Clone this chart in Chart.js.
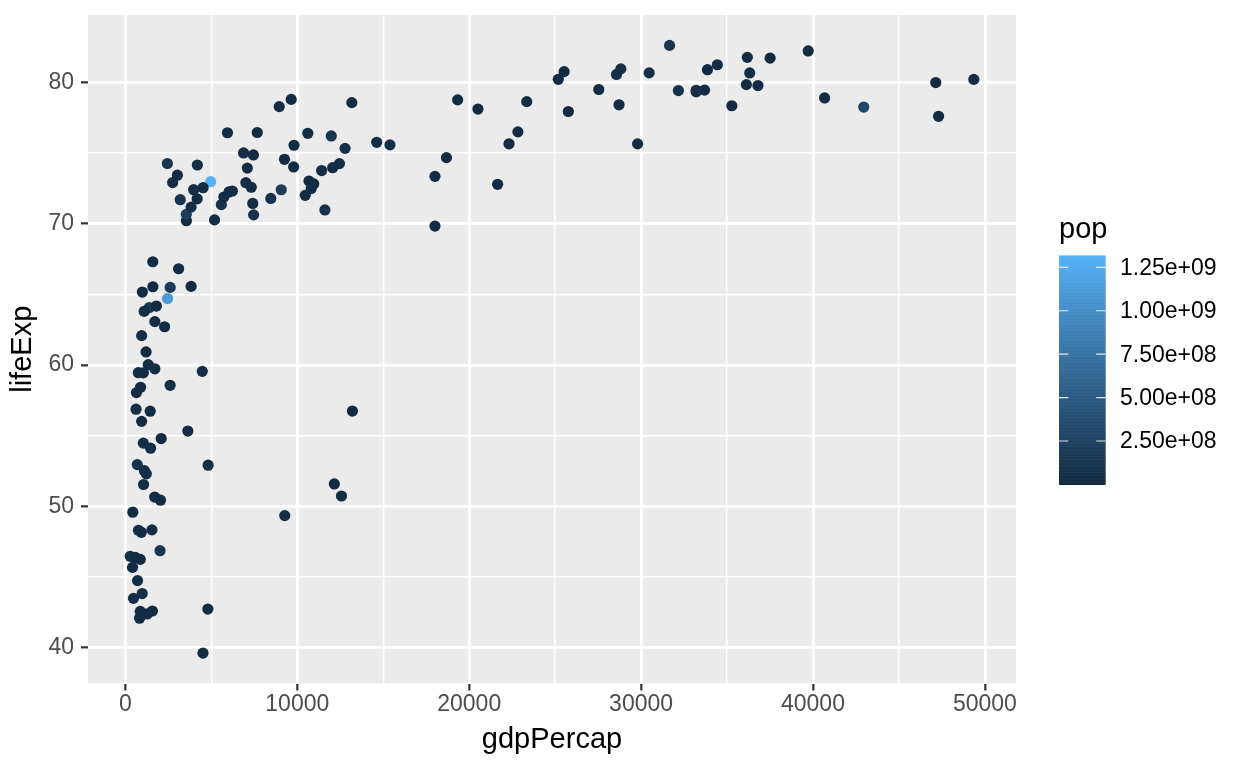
<!DOCTYPE html>
<html><head><meta charset="utf-8">
<script src="https://cdn.jsdelivr.net/npm/chart.js@4/dist/chart.umd.min.js"></script>
<style>html,body{margin:0;padding:0;background:#fff}#wrap{width:1248px;height:768px}</style>
</head><body><div id="wrap"><canvas id="c" width="1248" height="768"></canvas></div>
<script>
// gapminder 2007: country, lifeExp, pop, gdpPercap
const countries = ["Afghanistan","Albania","Algeria","Angola","Argentina","Australia","Austria","Bahrain","Bangladesh","Belgium","Benin","Bolivia","Bosnia and Herzegovina","Botswana","Brazil","Bulgaria","Burkina Faso","Burundi","Cambodia","Cameroon","Canada","Central African Republic","Chad","Chile","China","Colombia","Comoros","Congo, Dem. Rep.","Congo, Rep.","Costa Rica","Cote d'Ivoire","Croatia","Cuba","Czech Republic","Denmark","Djibouti","Dominican Republic","Ecuador","Egypt","El Salvador","Equatorial Guinea","Eritrea","Ethiopia","Finland","France","Gabon","Gambia","Germany","Ghana","Greece","Guatemala","Guinea","Guinea-Bissau","Haiti","Honduras","Hong Kong, China","Hungary","Iceland","India","Indonesia","Iran","Iraq","Ireland","Israel","Italy","Jamaica","Japan","Jordan","Kenya","Korea, Dem. Rep.","Korea, Rep.","Kuwait","Lebanon","Lesotho","Liberia","Libya","Madagascar","Malawi","Malaysia","Mali","Mauritania","Mauritius","Mexico","Mongolia","Montenegro","Morocco","Mozambique","Myanmar","Namibia","Nepal","Netherlands","New Zealand","Nicaragua","Niger","Nigeria","Norway","Oman","Pakistan","Panama","Paraguay","Peru","Philippines","Poland","Portugal","Puerto Rico","Reunion","Romania","Rwanda","Sao Tome and Principe","Saudi Arabia","Senegal","Serbia","Sierra Leone","Singapore","Slovak Republic","Slovenia","Somalia","South Africa","Spain","Sri Lanka","Sudan","Swaziland","Sweden","Switzerland","Syria","Taiwan","Tanzania","Thailand","Togo","Trinidad and Tobago","Tunisia","Turkey","Uganda","United Kingdom","United States","Uruguay","Venezuela","Vietnam","West Bank and Gaza","Yemen, Rep.","Zambia","Zimbabwe"];
const lifeExp = [43.828,76.423,72.301,42.731,75.32,81.235,79.829,75.635,64.062,79.441,56.728,65.554,74.852,50.728,72.39,73.005,52.295,49.58,59.723,50.43,80.653,44.741,50.651,78.553,72.961,72.889,65.152,46.462,55.322,78.782,48.328,75.748,78.273,76.486,78.332,54.791,72.235,74.994,71.338,71.878,51.579,58.04,52.947,79.313,80.657,56.735,59.448,79.406,60.022,79.483,70.259,56.007,46.388,60.916,70.198,82.208,73.338,81.757,64.698,70.65,70.964,59.545,78.885,80.745,80.546,72.567,82.603,72.535,54.11,67.297,78.623,77.588,71.993,42.592,45.678,73.952,59.443,48.303,74.241,54.467,64.164,72.801,76.195,66.803,74.543,71.164,42.082,62.069,52.906,63.785,79.762,80.204,72.899,56.867,46.859,80.196,75.64,65.483,75.537,71.752,71.421,71.688,75.563,78.098,78.746,76.442,72.476,46.242,65.528,72.777,63.062,74.002,42.568,79.972,74.663,77.926,48.159,49.339,80.941,72.396,58.556,39.613,80.884,81.701,74.143,78.4,52.517,70.616,58.42,69.819,73.923,71.777,51.542,79.425,78.242,76.384,73.747,74.249,73.422,62.698,42.384,43.487];
const pop = [31889923,3600523,33333216,12420476,40301927,20434176,8199783,708573,150448339,10392226,8078314,9119152,4552198,1639131,190010647,7322858,14326203,8390505,14131858,17696293,33390141,4369038,10238807,16284741,1318683096,44227550,710960,64606759,3800610,4133884,18013409,4493312,11416987,10228744,5468120,496374,9319622,13755680,80264543,6939688,551201,4906585,76511887,5238460,61083916,1454867,1688359,82400996,22873338,10706290,12572928,9947814,1472041,8502814,7483763,6980412,9956108,301931,1110396331,223547000,69453570,27499638,4109086,6426679,58147733,2780132,127467972,6053193,35610177,23301725,49044790,2505559,3921278,2012649,3193942,6036914,19167654,13327079,24821286,12031795,3270065,1250882,108700891,2874127,684736,33757175,19951656,47761980,2055080,28901790,16570613,4115771,5675356,12894865,135031164,4627926,3204897,169270617,3242173,6667147,28674757,91077287,38518241,10642836,3942491,798094,22276056,8860588,199579,27601038,12267493,10150265,6144562,4553009,5447502,2009245,9118773,43997828,40448191,20378239,42292929,1133066,9031088,7554661,19314747,23174294,38139640,65068149,5701579,1056608,10276158,71158647,29170398,60776238,301139947,3447496,26084662,85262356,4018332,22211743,11746035,12311143];
const gdpPercap = [974.5803384,5937.029526,6223.367465,4797.231267,12779.37964,34435.36744,36126.4927,29796.04834,1391.253792,33692.60508,1441.284873,3822.137084,7446.298803,12569.85177,9065.800825,10680.79282,1217.032994,430.0706916,1713.778686,2042.09524,36319.23501,706.016537,1704.063724,13171.63885,4959.114854,7006.580419,986.1478792,277.5518587,3632.557798,9645.06142,1544.750112,14619.22272,8948.102923,22833.30851,35278.41874,2082.481567,6025.374752,6873.262326,5581.180998,5728.353514,12154.08975,641.3695236,690.8055759,33207.0844,30470.0167,13206.48452,752.7497265,32170.37442,1327.60891,27538.41188,5186.050003,942.6542111,579.231743,1201.637154,3548.330846,39724.97867,18008.94444,36180.78919,2452.210407,3540.651564,11605.71449,4471.061906,40675.99635,25523.2771,28569.7197,7320.880262,31656.06806,4519.461171,1463.249282,1593.06548,23348.13973,47306.98978,10461.05868,1569.331442,414.5073415,12057.49928,1044.770126,759.3499101,12451.6558,1042.581557,1803.151496,10956.99112,11977.57496,3095.772271,9253.896111,3820.17523,823.6856205,944,4811.060429,1091.359778,36797.93332,25185.00911,2749.320965,619.6768924,2013.977305,49357.19017,22316.19287,2605.94758,9809.185636,4172.838464,7408.905561,3190.481016,15389.92468,20509.64777,19328.70901,7670.122558,10808.47561,863.0884639,1598.435089,21654.83194,1712.472136,9786.534714,862.5407561,47143.17964,18678.31435,25768.25759,926.1410683,9269.657808,28821.0637,3970.095407,2602.394995,4513.480643,33859.74835,37506.41907,4184.548089,28718.27684,1107.482182,7458.396327,882.9699438,18008.50924,7092.923025,8458.276384,1056.380121,33203.26128,42951.65309,10611.46299,11415.80569,2441.576404,3025.349798,2280.769906,1271.211593,469.7092981];

const xMajorTicks = [0, 10000, 20000, 30000, 40000, 50000];
const xMinorTicks = [5000, 15000, 25000, 35000, 45000];
const yMajorTicks = [40, 50, 60, 70, 80];
const yMinorTicks = [45, 55, 65, 75];
const popTicks = [2.5e8, 5e8, 7.5e8, 1e9, 1.25e9];
const popTickLabels = ["2.50e+08", "5.00e+08", "7.50e+08", "1.00e+09", "1.25e+09"];
const lowColor = "#132B43", highColor = "#56B1F7";

// ---- Lab colour interpolation (like ggplot's seq_gradient_pal) ----
function hexToRgb(h){ return [1,3,5].map(i => parseInt(h.slice(i,i+2),16)); }
function toLin(c){ c/=255; return c <= 0.04045 ? c/12.92 : Math.pow((c+0.055)/1.055, 2.4); }
function fromLin(c){ const v = c <= 0.0031308 ? 12.92*c : 1.055*Math.pow(c, 1/2.4) - 0.055; return Math.round(Math.max(0, Math.min(1, v))*255); }
const Xn=0.95047, Yn=1.0, Zn=1.08883;
function fLab(t){ return t > 216/24389 ? Math.cbrt(t) : (24389/27*t + 16)/116; }
function fInv(t){ const t3 = t*t*t; return t3 > 216/24389 ? t3 : (116*t - 16)/(24389/27); }
function rgbToLab(rgb){
  const [R,G,B] = rgb.map(toLin);
  const X = 0.4124564*R + 0.3575761*G + 0.1804375*B;
  const Y = 0.2126729*R + 0.7151522*G + 0.0721750*B;
  const Z = 0.0193339*R + 0.1191920*G + 0.9503041*B;
  const fx = fLab(X/Xn), fy = fLab(Y/Yn), fz = fLab(Z/Zn);
  return [116*fy - 16, 500*(fx - fy), 200*(fy - fz)];
}
function labToRgb(lab){
  const [L,a,b] = lab;
  const fy = (L + 16)/116, fx = fy + a/500, fz = fy - b/200;
  const X = fInv(fx)*Xn, Y = fInv(fy)*Yn, Z = fInv(fz)*Zn;
  const R =  3.2404542*X - 1.5371385*Y - 0.4985314*Z;
  const G = -0.9692660*X + 1.8760108*Y + 0.0415560*Z;
  const B =  0.0556434*X - 0.2040259*Y + 1.0572252*Z;
  return [fromLin(R), fromLin(G), fromLin(B)];
}
const labLow = rgbToLab(hexToRgb(lowColor)), labHigh = rgbToLab(hexToRgb(highColor));
const popMin = Math.min(...pop), popMax = Math.max(...pop);
function colorFor(v){
  const t = (v - popMin)/(popMax - popMin);
  const c = labToRgb(labLow.map((l,i) => l + (labHigh[i]-l)*t));
  return `rgb(${c[0]},${c[1]},${c[2]})`;
}

// ---- scale limits with ggplot's 5% expansion ----
const gxMin = Math.min(...gdpPercap), gxMax = Math.max(...gdpPercap);
const lyMin = Math.min(...lifeExp), lyMax = Math.max(...lifeExp);
const xPad = (gxMax - gxMin)*0.05, yPad = (lyMax - lyMin)*0.05;

const points = gdpPercap.map((g,i) => ({x: g, y: lifeExp[i]}));
const pointColors = pop.map(colorFor);

const FONT = "'Liberation Sans', Arial, Helvetica, sans-serif";

const bgPlugin = {
  id: 'bg',
  beforeDraw(chart){
    const {ctx, chartArea: a} = chart;
    ctx.save();
    ctx.fillStyle = '#FFFFFF';
    ctx.fillRect(0, 0, chart.width, chart.height);
    ctx.fillStyle = '#EBEBEB';
    ctx.fillRect(a.left, a.top, a.right - a.left, a.bottom - a.top);
    ctx.restore();
  },
  afterDraw(chart){
    const {ctx, chartArea: a} = chart;
    ctx.save();
    // axis titles
    ctx.fillStyle = '#000000';
    ctx.font = `29px ${FONT}`;
    ctx.textAlign = 'center';
    ctx.textBaseline = 'alphabetic';
    ctx.fillText('gdpPercap', (a.left + a.right)/2, 748);
    ctx.save();
    ctx.translate(31, (a.top + a.bottom)/2);
    ctx.rotate(-Math.PI/2);
    ctx.fillText('lifeExp', 0, 0);
    ctx.restore();
    // colourbar legend
    const bx = 1059, bw = 46.5, bTop = 255.4, bBot = 484.4;
    const yOf = v => bBot - (v - popMin)/(popMax - popMin)*(bBot - bTop);
    const n = 300;
    for (let i = 0; i < n; i++){
      const v0 = popMin + (popMax - popMin)*i/n;
      const y1 = yOf(v0), y2 = yOf(popMin + (popMax - popMin)*(i+1)/n);
      ctx.fillStyle = colorFor(popMin + (popMax - popMin)*(i+0.5)/n);
      ctx.fillRect(bx, y2, bw, y1 - y2 + 0.6);
    }
    ctx.strokeStyle = 'rgba(255,255,255,0.85)';
    ctx.lineWidth = 1.2;
    popTicks.forEach((v, i) => {
      const y = yOf(v);
      ctx.beginPath();
      ctx.moveTo(bx, y); ctx.lineTo(bx + 9.3, y);
      ctx.moveTo(bx + bw - 9.3, y); ctx.lineTo(bx + bw, y);
      ctx.stroke();
    });
    ctx.fillStyle = '#000000';
    ctx.font = `23px ${FONT}`;
    ctx.textAlign = 'left';
    ctx.textBaseline = 'middle';
    popTicks.forEach((v, i) => ctx.fillText(popTickLabels[i], 1120, yOf(v) + 1));
    ctx.font = `29px ${FONT}`;
    ctx.textBaseline = 'alphabetic';
    ctx.fillText('pop', 1059, 238);
    ctx.restore();
  }
};

const isIn = (arr, v) => arr.some(t => Math.abs(t - v) < 1e-9);

new Chart(document.getElementById('c'), {
  type: 'scatter',
  data: { datasets: [{
    data: points,
    backgroundColor: pointColors,
    borderWidth: 0,
    pointRadius: 5.6,
    pointHoverRadius: 5.6
  }]},
  options: {
    responsive: false,
    animation: false,
    devicePixelRatio: 1,
    layout: { padding: { left: 0, top: 15, right: 232, bottom: 0 } },
    plugins: { legend: { display: false }, tooltip: { enabled: false } },
    scales: {
      x: {
        type: 'linear',
        min: gxMin - xPad, max: gxMax + xPad,
        afterBuildTicks(scale){ scale.ticks = [...xMajorTicks, ...xMinorTicks].sort((a,b)=>a-b).map(v => ({value: v})); },
        afterFit(scale){ scale.height = 84.5; scale.paddingLeft = 0; scale.paddingRight = 0; },
        border: { display: false },
        grid: {
          color: '#FFFFFF',
          lineWidth: c => isIn(xMajorTicks, c.tick.value) ? 2.7 : 1.4,
          tickColor: c => isIn(xMajorTicks, c.tick.value) ? '#333333' : 'rgba(0,0,0,0)',
          tickWidth: 2.2,
          tickLength: 7,
          drawTicks: true
        },
        ticks: {
          autoSkip: false, maxRotation: 0, padding: 0,
          color: '#4D4D4D', font: { family: FONT, size: 23 },
          callback: v => isIn(xMajorTicks, v) ? String(v) : ''
        },
        title: { display: false }
      },
      y: {
        type: 'linear',
        min: lyMin - yPad, max: lyMax + yPad,
        afterBuildTicks(scale){ scale.ticks = [...yMajorTicks, ...yMinorTicks].sort((a,b)=>a-b).map(v => ({value: v})); },
        afterFit(scale){ scale.width = 88; scale.paddingTop = 0; scale.paddingBottom = 0; },
        border: { display: false },
        grid: {
          color: '#FFFFFF',
          lineWidth: c => isIn(yMajorTicks, c.tick.value) ? 2.7 : 1.4,
          tickColor: c => isIn(yMajorTicks, c.tick.value) ? '#333333' : 'rgba(0,0,0,0)',
          tickWidth: 2.2,
          tickLength: 7,
          drawTicks: true
        },
        ticks: {
          autoSkip: false, padding: 7,
          color: '#4D4D4D', font: { family: FONT, size: 23 },
          callback: v => isIn(yMajorTicks, v) ? String(v) : ''
        },
        title: { display: false }
      }
    }
  },
  plugins: [bgPlugin]
});
</script></body></html>
